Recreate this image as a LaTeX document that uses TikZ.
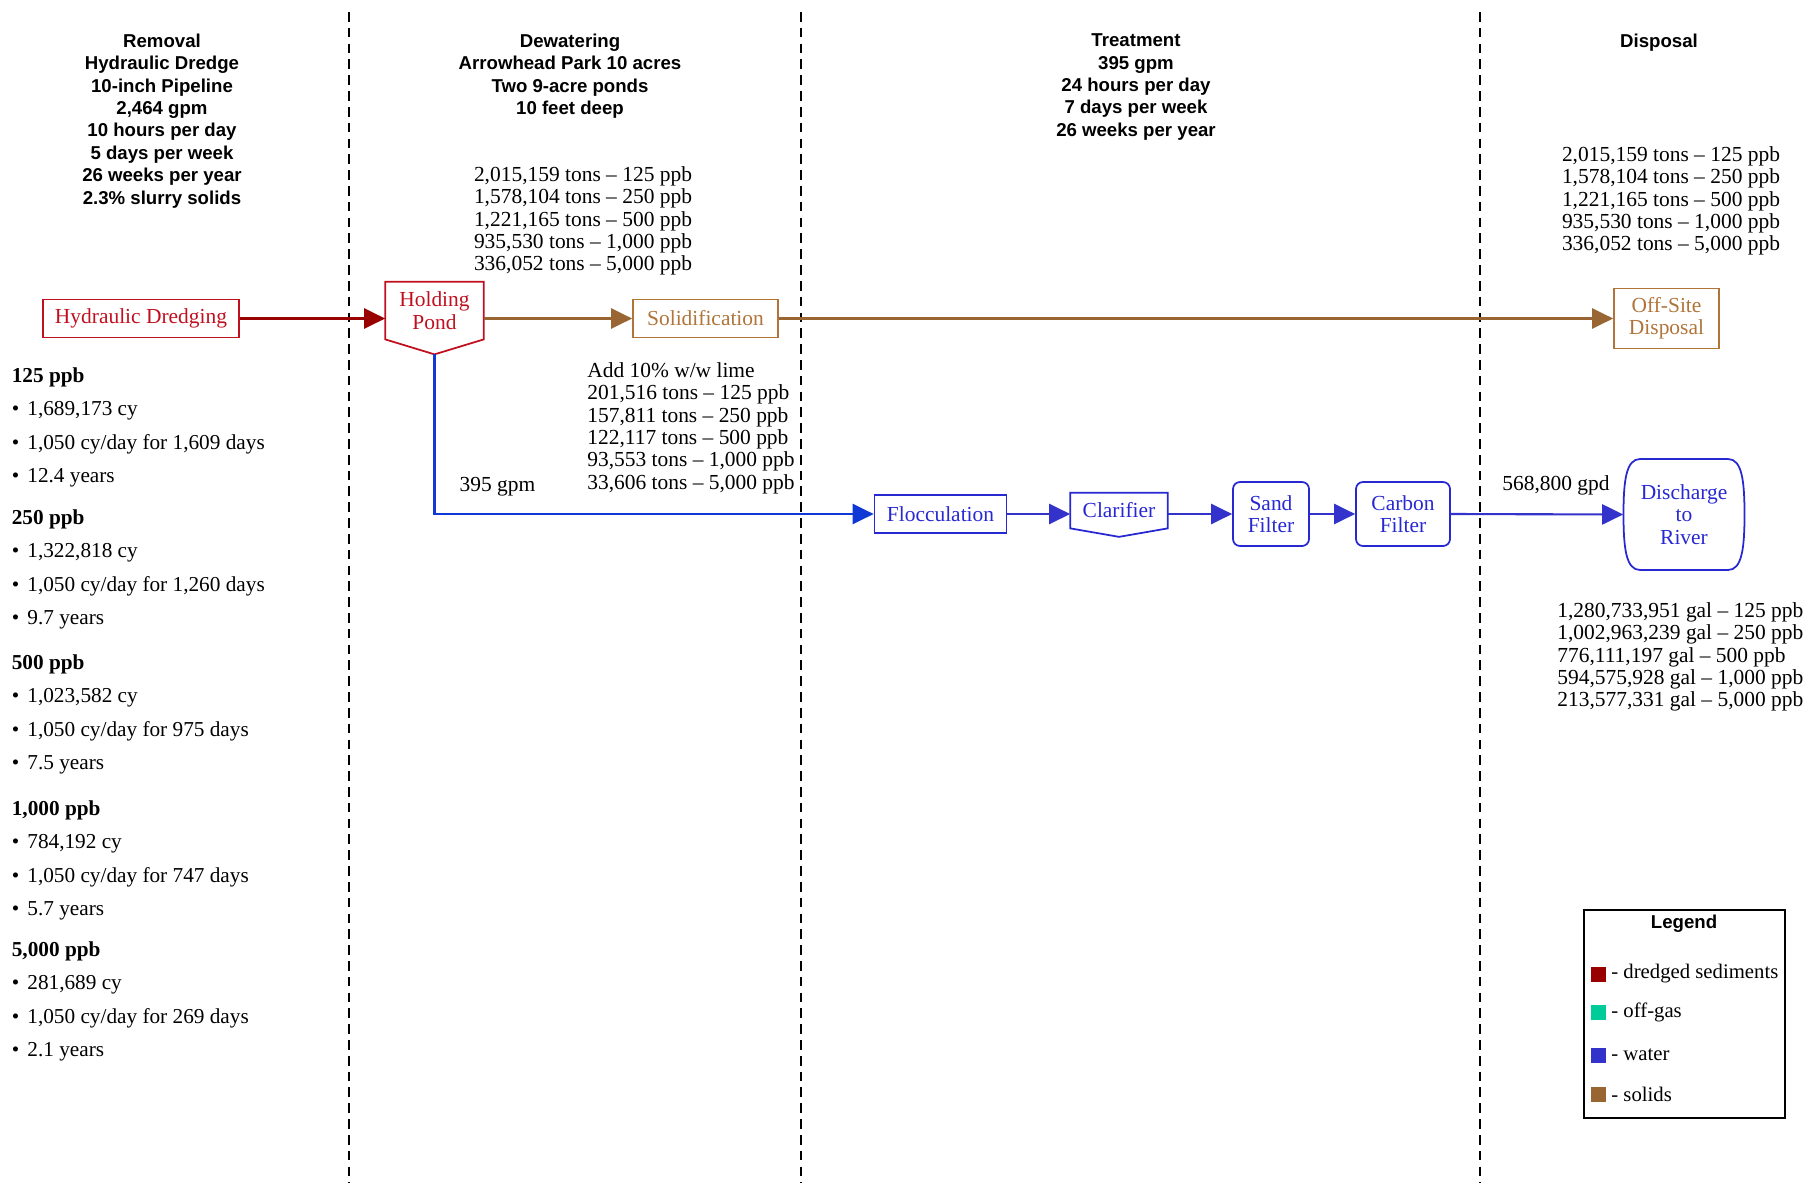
\documentclass[tikz,border=0pt]{standalone}
\usepackage{fontspec}
\setmainfont{Liberation Serif}
\newfontfamily\headfam{Liberation Sans}
\usetikzlibrary{arrows.meta}

\definecolor{sediment}{RGB}{153,0,0}
\definecolor{sedbox}{RGB}{192,16,32}
\definecolor{offgas}{RGB}{0,204,153}
\definecolor{water}{RGB}{51,51,204}
\definecolor{waterin}{RGB}{16,56,214}
\definecolor{waterbox}{RGB}{40,40,210}
\definecolor{solids}{RGB}{153,102,51}
\definecolor{solidbox}{RGB}{176,116,58}

\newcommand{\flowtext}{\fontsize{12.2}{12.75}\selectfont}
\newcommand{\keytext}{\fontsize{11.8}{12.75}\selectfont}
\newcommand{\flowhead}{\headfam\bfseries\fontsize{10.6}{12.75}\selectfont}
\newcommand{\listtext}{\fontsize{12.1}{19.1}\selectfont}
\newcommand{\itemdot}{\textbullet\hspace{0.38em}}

\tikzset{
	procbox/.style={draw, line width=1pt, inner sep=0pt, align=center, font=\flowtext},
	flowline/.style={line width=1.2pt, -{Triangle[length=12pt,width=11.5pt]}},
	colsep/.style={line width=0.9pt, dash pattern=on 5.5pt off 3.5pt},
	colhead/.style={anchor=north, align=center, inner sep=0pt, font=\flowhead},
	datatext/.style={inner sep=0pt, font=\flowtext},
	stats/.style={anchor=north west, align=left, inner sep=0pt, font=\listtext},
}

\begin{document}
\begin{tikzpicture}
	\useasboundingbox (0,0) rectangle (36.36,-23.72);
	\foreach \x in {6.98,16.02,29.6}
		\draw[colsep] (\x,-0.24) -- (\x,-23.66);
	\node[colhead] (removal) at (3.24,-0.67) {Removal\\Hydraulic Dredge\\10-inch Pipeline\\2,464 gpm\\10 hours per day\\5 days per week\\26 weeks per year\\2.3\% slurry solids};
	\node[colhead] (dewatering) at (11.4,-0.67) {Dewatering\\Arrowhead Park 10 acres\\Two 9-acre ponds\\10 feet deep};
	\node[colhead] (treatment) at (22.72,-0.67) {Treatment\\395 gpm\\24 hours per day\\7 days per week\\26 weeks per year};
	\node[colhead] (disposal) at (33.18,-0.67) {Disposal};
	\node[datatext, anchor=north, align=center] (pondload) at (11.66,-3.32) {2,015,159 tons -- 125 ppb\\1,578,104 tons -- 250 ppb\\1,221,165 tons -- 500 ppb\\935,530 tons -- 1,000 ppb\\336,052 tons -- 5,000 ppb};
	\node[datatext, anchor=north, align=center] (offload) at (33.42,-2.92) {2,015,159 tons -- 125 ppb\\1,578,104 tons -- 250 ppb\\1,221,165 tons -- 500 ppb\\935,530 tons -- 1,000 ppb\\336,052 tons -- 5,000 ppb};
	\node[datatext, anchor=north west, align=left] (lime) at (11.74,-7.24) {Add 10\% w/w lime\\201,516 tons -- 125 ppb\\157,811 tons -- 250 ppb\\122,117 tons -- 500 ppb\\93,553 tons -- 1,000 ppb\\33,606 tons -- 5,000 ppb};
	\node[datatext, anchor=north west, align=left] (gallons) at (31.14,-12.04) {1,280,733,951 gal -- 125 ppb\\1,002,963,239 gal -- 250 ppb\\776,111,197 gal -- 500 ppb\\594,575,928 gal -- 1,000 ppb\\213,577,331 gal -- 5,000 ppb};
	\node[stats] (ppb125) at (0.23,-7.34) {\textbf{125 ppb}\\\itemdot 1,689,173 cy\\\itemdot 1,050 cy/day for 1,609 days\\\itemdot 12.4 years};
	\node[stats] (ppb250) at (0.23,-10.18) {\textbf{250 ppb}\\\itemdot 1,322,818 cy\\\itemdot 1,050 cy/day for 1,260 days\\\itemdot 9.7 years};
	\node[stats] (ppb500) at (0.23,-13.08) {\textbf{500 ppb}\\\itemdot 1,023,582 cy\\\itemdot 1,050 cy/day for 975 days\\\itemdot 7.5 years};
	\node[stats] (ppb1000) at (0.23,-16.0) {\textbf{1,000 ppb}\\\itemdot 784,192 cy\\\itemdot 1,050 cy/day for 747 days\\\itemdot 5.7 years};
	\node[stats] (ppb5000) at (0.23,-18.82) {\textbf{5,000 ppb}\\\itemdot 281,689 cy\\\itemdot 1,050 cy/day for 269 days\\\itemdot 2.1 years};
	\node[procbox, draw=sedbox, text=sedbox, minimum width=3.92cm, minimum height=0.76cm] (dredging) at (2.82,-6.37) {Hydraulic Dredging};
	\node[datatext, align=center, text=sedbox, minimum width=1.96cm, minimum height=1.14cm] (pond) at (8.69,-6.21) {Holding\\Pond};
	\coordinate (pondtip) at ([yshift=-0.3cm]pond.south);
	\draw[sedbox, line width=1pt] (pond.north west) -- (pond.north east) -- (pond.south east) -- (pondtip) -- (pond.south west) -- cycle;
	\node[procbox, draw=solidbox, text=solidbox, minimum width=2.9cm, minimum height=0.76cm] (solid) at (14.11,-6.37) {Solidification};
	\node[procbox, draw=solidbox, text=solidbox, minimum width=2.1cm, minimum height=1.2cm] (offsite) at (33.33,-6.37) {Off-Site\\Disposal};
	\node[procbox, draw=waterbox, text=waterbox, minimum width=2.64cm, minimum height=0.76cm] (flocc) at (18.81,-10.28) {Flocculation};
	\node[datatext, text=waterbox, minimum width=1.94cm, minimum height=0.7cm] (clar) at (22.38,-10.21) {Clarifier};
	\coordinate (clartip) at ([yshift=-0.17cm]clar.south);
	\draw[waterbox, line width=1pt] (clar.north west) -- (clar.north east) -- (clar.south east) -- (clartip) -- (clar.south west) -- cycle;
	\node[procbox, draw=waterbox, text=waterbox, rounded corners=4pt, minimum width=1.52cm, minimum height=1.28cm] (sand) at (25.42,-10.28) {Sand\\Filter};
	\node[procbox, draw=waterbox, text=waterbox, rounded corners=4pt, minimum width=1.88cm, minimum height=1.28cm] (carbon) at (28.06,-10.28) {Carbon\\Filter};
	\node[datatext, align=center, text=waterbox, minimum width=2.42cm, minimum height=2.22cm] (river) at (33.68,-10.29) {Discharge\\to\\River};
	\draw[waterbox, line width=1pt] (32.8,-9.18) -- (34.56,-9.18) .. controls (34.84,-9.18) and (34.89,-9.62) .. (34.89,-10.29) .. controls (34.89,-10.96) and (34.84,-11.4) .. (34.56,-11.4) -- (32.8,-11.4) .. controls (32.52,-11.4) and (32.47,-10.96) .. (32.47,-10.29) .. controls (32.47,-9.62) and (32.52,-9.18) .. (32.8,-9.18) -- cycle;
	\draw[flowline, sediment] (dredging.east) -- (dredging -| pond.west);
	\draw[flowline, solids] (solid -| pond.east) -- (solid.west);
	\draw[flowline, solids] (solid.east) -- (offsite.west);
	\draw[flowline, waterin] (pondtip) |- (flocc.west);
	\draw[flowline, water] (flocc.east) -- (flocc -| clar.west);
	\draw[flowline, water] (flocc -| clar.east) -- (sand.west);
	\draw[flowline, water] (sand.east) -- (carbon.west);
	\draw[flowline, water] (carbon.east) -- (river.west);
	\node[datatext] (pondrate) at (9.95,-9.73) {395 gpm};
	\node[datatext] (riverrate) at (31.12,-9.7) {568,800 gpd};
	\node[draw, line width=1.4pt, minimum width=4.02cm, minimum height=4.16cm, inner sep=0pt] (legend) at (33.69,-20.28) {};
	\node[font=\flowhead, inner sep=0pt] (legendtitle) at (33.68,-18.48) {Legend};
	\foreach \c/\t/\y in {sediment/dredged sediments/-19.48, offgas/off-gas/-20.24, water/water/-21.1, solids/solids/-21.88}{
		\node[fill=\c, minimum size=0.3cm, inner sep=0pt] (key\c) at (31.96,\y) {};
		\node[inner sep=0pt, font=\keytext, anchor=west] (label\c) at (32.22,\y) {- \t};
	}
\end{tikzpicture}
\end{document}
